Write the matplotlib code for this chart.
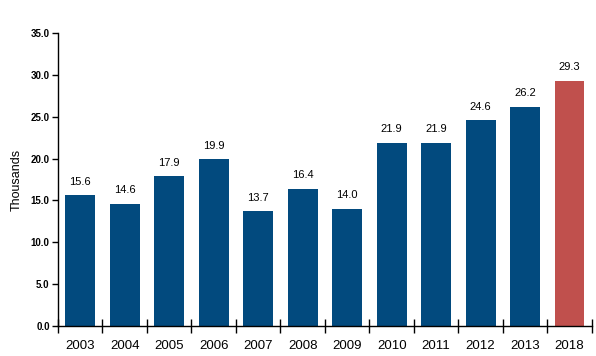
import matplotlib
matplotlib.use("Agg")
import matplotlib.pyplot as plt
import numpy as np
from matplotlib.ticker import FixedLocator, NullFormatter

years = ["2003", "2004", "2005", "2006", "2007", "2008", "2009",
         "2010", "2011", "2012", "2013", "2018"]
values = [15.6, 14.6, 17.9, 19.9, 13.7, 16.4, 14.0,
          21.9, 21.9, 24.6, 26.2, 29.3]
yticks = [0, 5, 10, 15, 20, 25, 30, 35]

blue = "#024A7E"
red = "#C0504D"
colors = [blue] * (len(years) - 1) + [red]

plt.rcParams["font.family"] = ["Liberation Sans", "DejaVu Sans"]

fig = plt.figure(figsize=(5.96, 3.56), dpi=100)
ax = fig.add_axes([0.0973, 0.0843, 0.8957, 0.823])

x = np.arange(len(years))
ax.bar(x, values, width=0.67, color=colors)
for xi, v in zip(x, values):
    ax.text(xi, v + 1.0, f"{v:.1f}", ha="center", va="bottom", fontsize=8)

ax.set_xlim(-0.5, len(years) - 0.5)
ax.set_ylim(0, 35)
ax.set_yticks(yticks)
ax.set_yticklabels([f"{t:.1f}" for t in yticks], fontsize=7,
                   fontweight="bold")
ax.set_xticks(x)
ax.set_xticklabels(years, fontsize=9.5)
ax.tick_params(axis="x", which="major", length=0, pad=10)
ax.xaxis.set_minor_locator(FixedLocator(np.arange(-0.5, len(years), 1.0)))
ax.xaxis.set_minor_formatter(NullFormatter())
ax.tick_params(axis="x", which="minor", direction="inout", length=10,
               width=1)
ax.tick_params(axis="y", direction="out", length=4, width=1, pad=2)
ax.set_ylabel("Thousands", fontsize=9, labelpad=6)

for s in ["top", "right"]:
    ax.spines[s].set_visible(False)
ax.spines["left"].set_linewidth(1)
ax.spines["bottom"].set_linewidth(1)

fig.savefig("out.png", dpi=100)
